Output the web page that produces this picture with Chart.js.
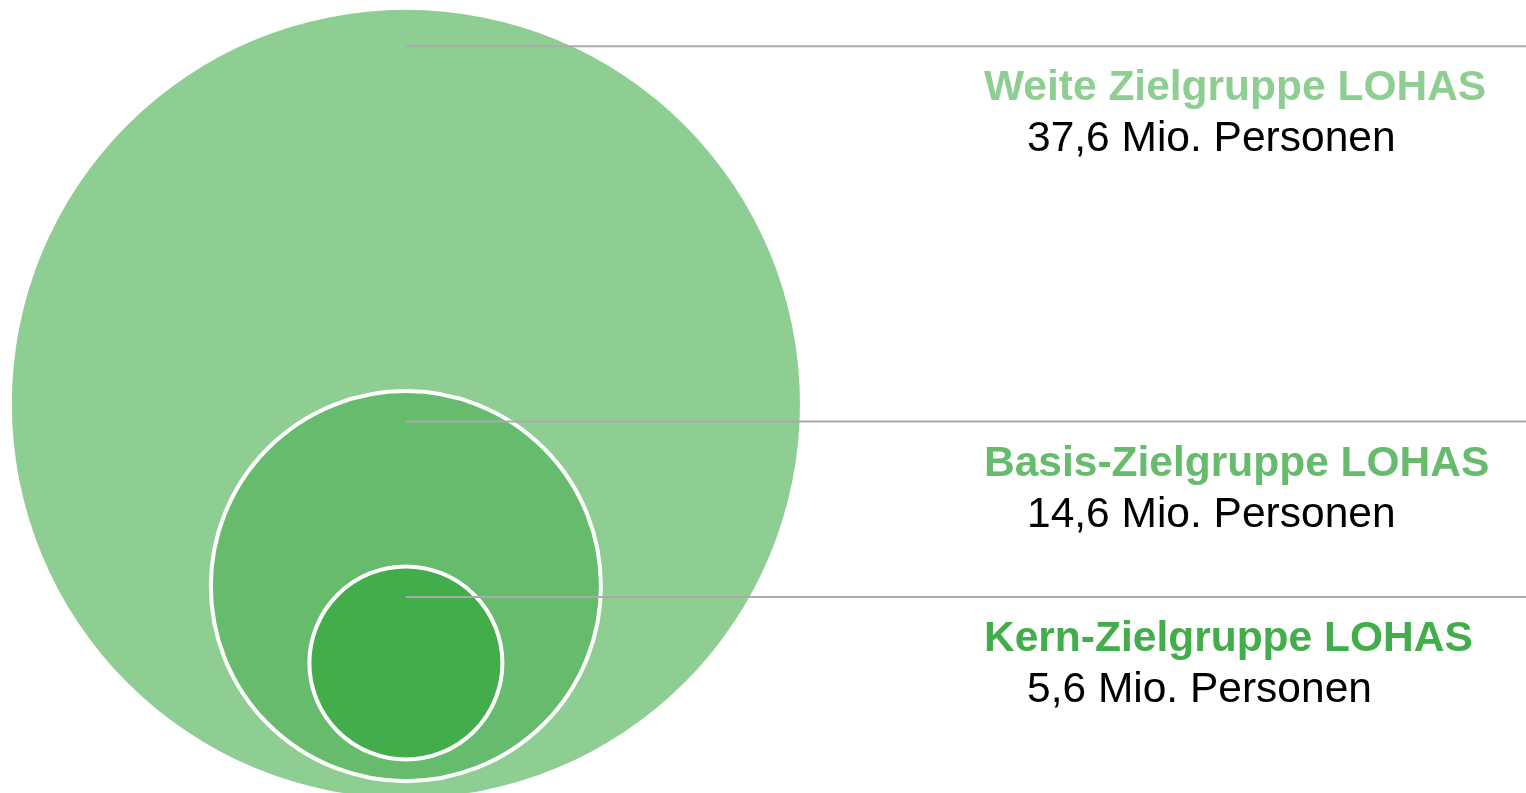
<!DOCTYPE html>
<html lang="de">
<head>
<meta charset="UTF-8">
<title>Zielgruppe LOHAS</title>
<script src="https://cdn.jsdelivr.net/npm/chart.js@4.4.0/dist/chart.umd.min.js"></script>
<style>
  html, body { margin: 0; padding: 0; background: #ffffff; }
  .wrap { position: relative; width: 1526px; height: 793px; }
</style>
</head>
<body>
<div class="wrap">
  <canvas id="lohas"></canvas>
</div>
<script>
// Daten (Mio. Personen) – von außen nach innen
const categories = ['Weite Zielgruppe LOHAS', 'Basis-Zielgruppe LOHAS', 'Kern-Zielgruppe LOHAS'];
const persons = [37.6, 14.6, 5.6];
// Kreisgröße (Radius in Achseneinheiten) und Lage der Kreismitte
const circleSize = [4, 2, 1];
const circleX = [4.12, 4.12, 4.12];
const circleY = [3.95, 2.10, 1.32];
// Höhe der Hinweislinien
const leaderY = [7.58, 3.77, 1.99];

const fillColors = ['#8fce92', '#66bc6c', '#42ad4a'];
const X_MAX = 15.49;
const Y_MAX = 8.05;

const valueLabels = persons.map(v => v.toFixed(1).replace('.', ',') + ' Mio. Personen');

// Radius in Pixel aus der x-Achse, damit die Kreise zur Skala passen
const borderOf = i => (i === 0 ? 0 : 4);
const radiusOf = (ctx) => {
  const s = ctx.chart.scales.x;
  if (!s) return 0;
  const px = Math.abs(s.getPixelForValue(circleSize[ctx.dataIndex]) - s.getPixelForValue(0));
  return isFinite(px) ? px - borderOf(ctx.dataIndex) / 2 : 0;
};

const leaderSets = leaderY.map((y, i) => ({
  type: 'line',
  data: [{ x: circleX[i], y: y }, { x: X_MAX, y: y }],
  borderColor: '#aaaaaa',
  borderWidth: 2,
  pointRadius: 0,
  fill: false,
  order: 0
}));

// Beschriftungen rechts, an den Hinweislinien ausgerichtet
const labelPlugin = {
  id: 'labels',
  afterDatasetsDraw(chart) {
    const { ctx, chartArea, scales } = chart;
    ctx.save();
    ctx.textBaseline = 'alphabetic';
    ctx.textAlign = 'left';
    leaderY.forEach((ly, i) => {
      const y = scales.y.getPixelForValue(ly);
      ctx.fillStyle = fillColors[i];
      ctx.font = 'bold 42.5px "Liberation Sans", Arial, sans-serif';
      ctx.fillText(categories[i], chartArea.left + 984, y + 54);
      ctx.fillStyle = '#000000';
      ctx.font = '42.5px "Liberation Sans", Arial, sans-serif';
      ctx.fillText(valueLabels[i], chartArea.left + 1027, y + 105);
    });
    ctx.restore();
  }
};

new Chart(document.getElementById('lohas'), {
  type: 'scatter',
  data: {
    datasets: [
      {
        data: circleX.map((x, i) => ({ x: x, y: circleY[i] })),
        pointBackgroundColor: fillColors,
        pointBorderColor: '#ffffff',
        pointBorderWidth: ctx => borderOf(ctx.dataIndex),
        pointRadius: radiusOf,
        pointHoverRadius: radiusOf,
        showLine: false,
        clip: false,
        order: 1
      },
      ...leaderSets
    ]
  },
  options: {
    responsive: true,
    maintainAspectRatio: false,
    animation: false,
    events: [],
    layout: { padding: 0, autoPadding: false },
    plugins: {
      legend: { display: false },
      tooltip: { enabled: false }
    },
    scales: {
      x: { type: 'linear', min: 0, max: X_MAX, display: false },
      y: { type: 'linear', min: 0, max: Y_MAX, display: false }
    }
  },
  plugins: [labelPlugin]
});
</script>
</body>
</html>
